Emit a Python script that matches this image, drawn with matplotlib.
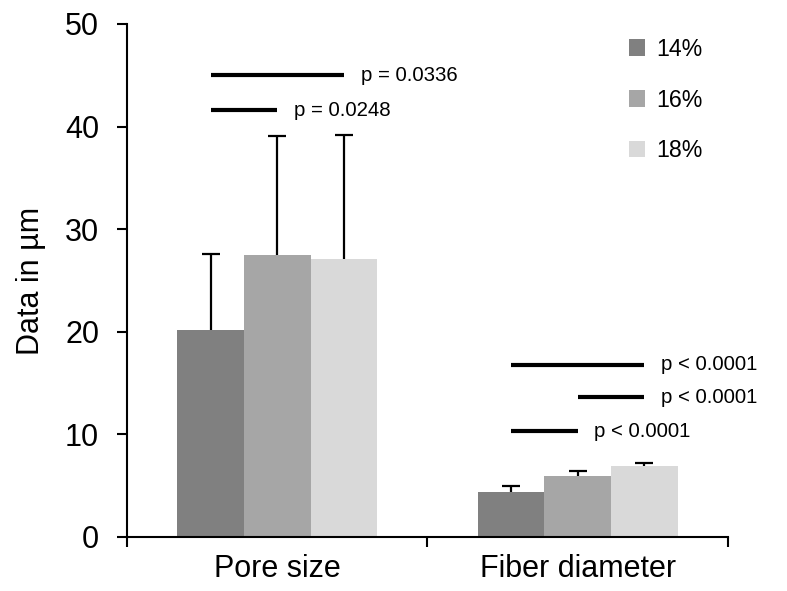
import numpy as np
import matplotlib
matplotlib.use("Agg")
import matplotlib.pyplot as plt

plt.rcParams["font.family"] = ["Liberation Sans", "DejaVu Sans"]

categories = ["Pore size", "Fiber diameter"]
groups     = ["14%", "16%", "18%"]
means = {
    "14%": [20.2, 4.4],
    "16%": [27.5, 5.9],
    "18%": [27.1, 6.9],
}
errs = {
    "14%": [7.4, 0.6],
    "16%": [11.6, 0.5],
    "18%": [12.1, 0.35],
}
colors = {"14%": "#808080", "16%": "#a6a6a6", "18%": "#d9d9d9"}

# significance brackets: (category, group a, group b, y, label)
sig = [
    (0, 0, 2, 45.0, "p = 0.0336"),
    (0, 0, 1, 41.6, "p = 0.0248"),
    (1, 0, 2, 16.8, "p < 0.0001"),
    (1, 1, 2, 13.6, "p < 0.0001"),
    (1, 0, 1, 10.3, "p < 0.0001"),
]

fig = plt.figure(figsize=(7.87, 5.91), dpi=100)
ax = fig.add_axes([0.1614, 0.0914, 0.7636, 0.868])

x = np.arange(len(categories))
w = 0.222
offsets = [-w, 0, w]
cap = 0.03

for g, off in zip(groups, offsets):
    xs = x + off
    m = np.array(means[g])
    top = m + np.array(errs[g])
    ax.bar(xs, m, width=w, color=colors[g], label=g, zorder=2)
    # upper error bar only (stem + cap)
    ax.vlines(xs, m, top, color="black", lw=1.6, zorder=3)
    ax.hlines(top, xs - cap, xs + cap, color="black", lw=1.6, zorder=3)

for cat, a, b, y, lab in sig:
    xa, xb = x[cat] + offsets[a], x[cat] + offsets[b]
    ax.plot([xa, xb], [y, y], color="black", lw=3, solid_capstyle="butt")
    ax.annotate(lab, (xb, y), xytext=(12, 0), textcoords="offset points",
                va="center", ha="left", fontsize=14.7)

ax.set_xlim(-0.5, 1.5)
ax.set_ylim(0, 50)
ax.set_yticks(range(0, 51, 10))
ax.set_xticks([-0.5, 0.5, 1.5])
ax.set_xticklabels([])
ax.set_xticks(x, minor=True)
ax.set_xticklabels(categories, minor=True, fontsize=22)
ax.tick_params(axis="x", which="minor", length=0, pad=12)
ax.tick_params(axis="x", which="major", length=7, width=1.5, direction="out")
ax.tick_params(axis="y", length=7, width=1.5, direction="out", labelsize=22, pad=13)
ax.set_ylabel("Data in µm", fontsize=22, labelpad=14)

for s in ["top", "right"]:
    ax.spines[s].set_visible(False)
for s in ["left", "bottom"]:
    ax.spines[s].set_linewidth(1.5)

ax.legend(loc="upper right", bbox_to_anchor=(0.992, 1.014), frameon=False,
          fontsize=16.7, handlelength=0.7, handleheight=0.7,
          handletextpad=0.45, labelspacing=1.2)

fig.savefig("out.png", dpi=100)
